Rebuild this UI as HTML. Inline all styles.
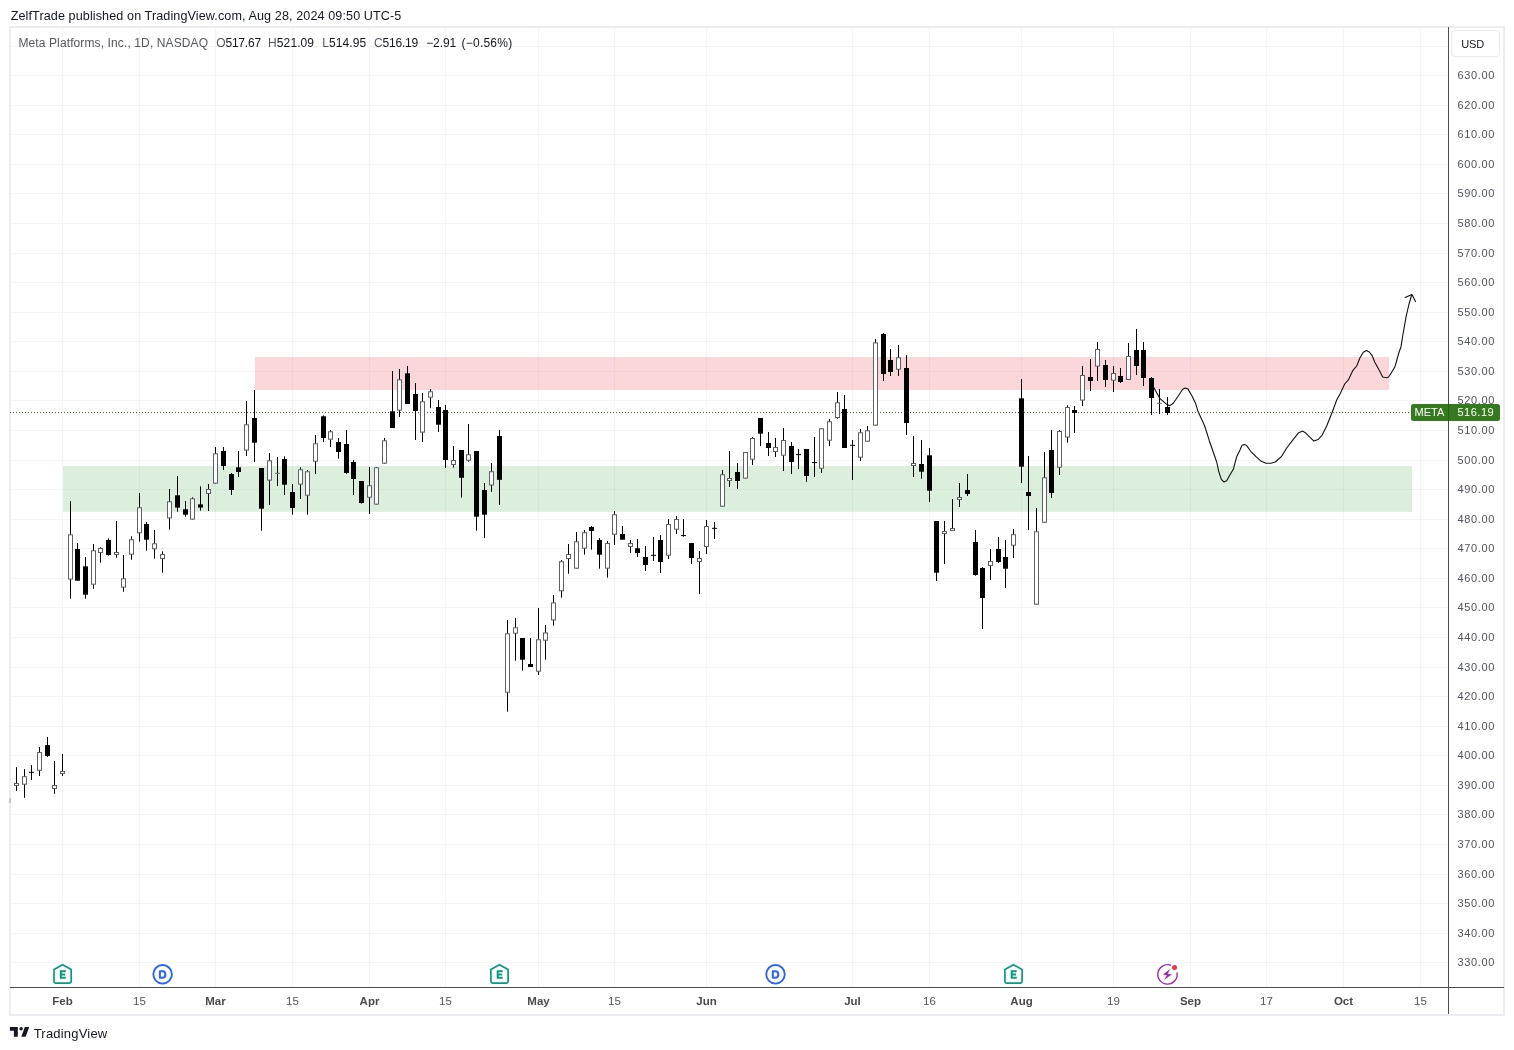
<!DOCTYPE html>
<html><head><meta charset="utf-8"><title>META chart</title>
<style>
html,body{margin:0;padding:0;background:#fff;}
body{width:1514px;height:1050px;position:relative;overflow:hidden;font-family:"Liberation Sans",sans-serif;}
.t{position:absolute;white-space:nowrap;line-height:1;}
#frame{position:absolute;left:9px;top:26px;width:1492px;height:986px;border:2px solid #ebedf3;box-sizing:content-box;}
svg{position:absolute;left:0;top:0;}
#tx{position:absolute;left:0;top:0;width:1514px;height:1050px;will-change:transform;}
.pl{position:absolute;left:1457.4px;font-size:11px;letter-spacing:0.67px;color:#50535e;line-height:12px;height:12px;white-space:nowrap;}
.tl{position:absolute;top:994px;font-size:11.5px;color:#555;line-height:14px;white-space:nowrap;transform:translateX(-50%);}
.tl.b{font-weight:bold;color:#4b4b4b;}
</style></head><body>
<div id="frame"></div>

<svg width="1514" height="1050" viewBox="0 0 1514 1050">
<line x1="62.5" y1="27" x2="62.5" y2="987" stroke="#f4f4f7" stroke-width="1"/>
<line x1="139.5" y1="27" x2="139.5" y2="987" stroke="#f4f4f7" stroke-width="1"/>
<line x1="215.5" y1="27" x2="215.5" y2="987" stroke="#f4f4f7" stroke-width="1"/>
<line x1="292.5" y1="27" x2="292.5" y2="987" stroke="#f4f4f7" stroke-width="1"/>
<line x1="369.5" y1="27" x2="369.5" y2="987" stroke="#f4f4f7" stroke-width="1"/>
<line x1="445.5" y1="27" x2="445.5" y2="987" stroke="#f4f4f7" stroke-width="1"/>
<line x1="538.5" y1="27" x2="538.5" y2="987" stroke="#f4f4f7" stroke-width="1"/>
<line x1="614.5" y1="27" x2="614.5" y2="987" stroke="#f4f4f7" stroke-width="1"/>
<line x1="706.5" y1="27" x2="706.5" y2="987" stroke="#f4f4f7" stroke-width="1"/>
<line x1="852.5" y1="27" x2="852.5" y2="987" stroke="#f4f4f7" stroke-width="1"/>
<line x1="929.5" y1="27" x2="929.5" y2="987" stroke="#f4f4f7" stroke-width="1"/>
<line x1="1021.5" y1="27" x2="1021.5" y2="987" stroke="#f4f4f7" stroke-width="1"/>
<line x1="1113.5" y1="27" x2="1113.5" y2="987" stroke="#f4f4f7" stroke-width="1"/>
<line x1="1190.5" y1="27" x2="1190.5" y2="987" stroke="#f4f4f7" stroke-width="1"/>
<line x1="1266.5" y1="27" x2="1266.5" y2="987" stroke="#f4f4f7" stroke-width="1"/>
<line x1="1343.5" y1="27" x2="1343.5" y2="987" stroke="#f4f4f7" stroke-width="1"/>
<line x1="1420.5" y1="27" x2="1420.5" y2="987" stroke="#f4f4f7" stroke-width="1"/>
<line x1="10" y1="962.5" x2="1448" y2="962.5" stroke="#f4f4f7" stroke-width="1"/>
<line x1="10" y1="933.5" x2="1448" y2="933.5" stroke="#f4f4f7" stroke-width="1"/>
<line x1="10" y1="903.5" x2="1448" y2="903.5" stroke="#f4f4f7" stroke-width="1"/>
<line x1="10" y1="874.5" x2="1448" y2="874.5" stroke="#f4f4f7" stroke-width="1"/>
<line x1="10" y1="844.5" x2="1448" y2="844.5" stroke="#f4f4f7" stroke-width="1"/>
<line x1="10" y1="814.5" x2="1448" y2="814.5" stroke="#f4f4f7" stroke-width="1"/>
<line x1="10" y1="785.5" x2="1448" y2="785.5" stroke="#f4f4f7" stroke-width="1"/>
<line x1="10" y1="755.5" x2="1448" y2="755.5" stroke="#f4f4f7" stroke-width="1"/>
<line x1="10" y1="726.5" x2="1448" y2="726.5" stroke="#f4f4f7" stroke-width="1"/>
<line x1="10" y1="696.5" x2="1448" y2="696.5" stroke="#f4f4f7" stroke-width="1"/>
<line x1="10" y1="667.5" x2="1448" y2="667.5" stroke="#f4f4f7" stroke-width="1"/>
<line x1="10" y1="637.5" x2="1448" y2="637.5" stroke="#f4f4f7" stroke-width="1"/>
<line x1="10" y1="607.5" x2="1448" y2="607.5" stroke="#f4f4f7" stroke-width="1"/>
<line x1="10" y1="578.5" x2="1448" y2="578.5" stroke="#f4f4f7" stroke-width="1"/>
<line x1="10" y1="548.5" x2="1448" y2="548.5" stroke="#f4f4f7" stroke-width="1"/>
<line x1="10" y1="519.5" x2="1448" y2="519.5" stroke="#f4f4f7" stroke-width="1"/>
<line x1="10" y1="489.5" x2="1448" y2="489.5" stroke="#f4f4f7" stroke-width="1"/>
<line x1="10" y1="460.5" x2="1448" y2="460.5" stroke="#f4f4f7" stroke-width="1"/>
<line x1="10" y1="430.5" x2="1448" y2="430.5" stroke="#f4f4f7" stroke-width="1"/>
<line x1="10" y1="400.5" x2="1448" y2="400.5" stroke="#f4f4f7" stroke-width="1"/>
<line x1="10" y1="371.5" x2="1448" y2="371.5" stroke="#f4f4f7" stroke-width="1"/>
<line x1="10" y1="341.5" x2="1448" y2="341.5" stroke="#f4f4f7" stroke-width="1"/>
<line x1="10" y1="312.5" x2="1448" y2="312.5" stroke="#f4f4f7" stroke-width="1"/>
<line x1="10" y1="282.5" x2="1448" y2="282.5" stroke="#f4f4f7" stroke-width="1"/>
<line x1="10" y1="253.5" x2="1448" y2="253.5" stroke="#f4f4f7" stroke-width="1"/>
<line x1="10" y1="223.5" x2="1448" y2="223.5" stroke="#f4f4f7" stroke-width="1"/>
<line x1="10" y1="193.5" x2="1448" y2="193.5" stroke="#f4f4f7" stroke-width="1"/>
<line x1="10" y1="164.5" x2="1448" y2="164.5" stroke="#f4f4f7" stroke-width="1"/>
<line x1="10" y1="134.5" x2="1448" y2="134.5" stroke="#f4f4f7" stroke-width="1"/>
<line x1="10" y1="105.5" x2="1448" y2="105.5" stroke="#f4f4f7" stroke-width="1"/>
<line x1="10" y1="75.5" x2="1448" y2="75.5" stroke="#f4f4f7" stroke-width="1"/>
<line x1="10" y1="46.5" x2="1448" y2="46.5" stroke="#f4f4f7" stroke-width="1"/>
<rect x="255" y="357" width="1134" height="33" fill="#f23645" fill-opacity="0.2"/>
<rect x="63" y="466" width="1349" height="45.8" fill="#4caf50" fill-opacity="0.2"/>
<line x1="10" y1="412.5" x2="1411" y2="412.5" stroke="#2f7d1a" stroke-width="1" stroke-dasharray="1 2"/>
<rect x="9.6" y="798" width="1" height="5" fill="#9a9ca6"/>
<line x1="16.5" y1="767.1" x2="16.5" y2="790.9" stroke="#000" stroke-width="1"/>
<rect x="14.5" y="783.5" width="4" height="2.0" fill="#fff" stroke="#5d606b" stroke-width="1"/>
<line x1="24.5" y1="769.1" x2="24.5" y2="797.8" stroke="#000" stroke-width="1"/>
<rect x="22.5" y="776.7" width="4" height="7.5" fill="#fff" stroke="#5d606b" stroke-width="1"/>
<line x1="31.5" y1="765.1" x2="31.5" y2="780.0" stroke="#000" stroke-width="1"/>
<line x1="29.0" y1="772.3" x2="34.0" y2="772.3" stroke="#000" stroke-width="1"/>
<line x1="39.5" y1="747.0" x2="39.5" y2="776.0" stroke="#000" stroke-width="1"/>
<rect x="37.5" y="752.5" width="4" height="17.8" fill="#fff" stroke="#5d606b" stroke-width="1"/>
<line x1="47.5" y1="737.0" x2="47.5" y2="756.9" stroke="#000" stroke-width="1"/>
<rect x="45.0" y="745.1" width="5" height="10.8" fill="#000"/>
<line x1="54.5" y1="760.9" x2="54.5" y2="793.8" stroke="#000" stroke-width="1"/>
<rect x="52.5" y="785.5" width="4" height="3.0" fill="#fff" stroke="#5d606b" stroke-width="1"/>
<line x1="62.5" y1="754.0" x2="62.5" y2="776.0" stroke="#000" stroke-width="1"/>
<rect x="60.5" y="771.5" width="4" height="2.0" fill="#fff" stroke="#5d606b" stroke-width="1"/>
<line x1="70.5" y1="501.1" x2="70.5" y2="598.7" stroke="#000" stroke-width="1"/>
<rect x="68.5" y="534.8" width="4" height="44.3" fill="#fff" stroke="#5d606b" stroke-width="1"/>
<line x1="77.5" y1="543.0" x2="77.5" y2="580.7" stroke="#000" stroke-width="1"/>
<rect x="75.0" y="549.0" width="5" height="31.7" fill="#000"/>
<line x1="85.5" y1="557.0" x2="85.5" y2="598.7" stroke="#000" stroke-width="1"/>
<rect x="83.0" y="566.3" width="5" height="28.4" fill="#000"/>
<line x1="93.5" y1="544.0" x2="93.5" y2="588.7" stroke="#000" stroke-width="1"/>
<rect x="91.5" y="550.8" width="4" height="33.4" fill="#fff" stroke="#5d606b" stroke-width="1"/>
<line x1="100.5" y1="547.3" x2="100.5" y2="562.7" stroke="#000" stroke-width="1"/>
<rect x="98.5" y="548.5" width="4" height="4.0" fill="#fff" stroke="#5d606b" stroke-width="1"/>
<line x1="108.5" y1="538.3" x2="108.5" y2="555.7" stroke="#000" stroke-width="1"/>
<rect x="106.0" y="540.0" width="5" height="15.0" fill="#000"/>
<line x1="116.5" y1="521.0" x2="116.5" y2="557.7" stroke="#000" stroke-width="1"/>
<rect x="114.5" y="552.5" width="4" height="2.0" fill="#fff" stroke="#5d606b" stroke-width="1"/>
<line x1="123.5" y1="555.0" x2="123.5" y2="591.7" stroke="#000" stroke-width="1"/>
<rect x="121.5" y="578.8" width="4" height="8.3" fill="#fff" stroke="#5d606b" stroke-width="1"/>
<line x1="131.5" y1="536.3" x2="131.5" y2="559.7" stroke="#000" stroke-width="1"/>
<rect x="129.5" y="539.8" width="4" height="14.4" fill="#fff" stroke="#5d606b" stroke-width="1"/>
<line x1="139.5" y1="493.0" x2="139.5" y2="541.7" stroke="#000" stroke-width="1"/>
<rect x="137.5" y="507.8" width="4" height="25.0" fill="#fff" stroke="#5d606b" stroke-width="1"/>
<line x1="146.5" y1="522.0" x2="146.5" y2="550.7" stroke="#000" stroke-width="1"/>
<rect x="144.0" y="524.0" width="5" height="15.7" fill="#000"/>
<line x1="154.5" y1="530.0" x2="154.5" y2="558.7" stroke="#000" stroke-width="1"/>
<rect x="152.5" y="543.8" width="4" height="5.0" fill="#fff" stroke="#5d606b" stroke-width="1"/>
<line x1="162.5" y1="551.3" x2="162.5" y2="572.7" stroke="#000" stroke-width="1"/>
<rect x="160.5" y="554.5" width="4" height="4.0" fill="#fff" stroke="#5d606b" stroke-width="1"/>
<line x1="169.5" y1="489.0" x2="169.5" y2="529.6" stroke="#000" stroke-width="1"/>
<rect x="167.5" y="501.8" width="4" height="16.1" fill="#fff" stroke="#5d606b" stroke-width="1"/>
<line x1="177.5" y1="476.0" x2="177.5" y2="511.7" stroke="#000" stroke-width="1"/>
<rect x="175.0" y="495.3" width="5" height="12.3" fill="#000"/>
<line x1="185.5" y1="501.0" x2="185.5" y2="516.7" stroke="#000" stroke-width="1"/>
<rect x="183.0" y="509.3" width="5" height="5.4" fill="#000"/>
<line x1="192.5" y1="497.3" x2="192.5" y2="519.6" stroke="#000" stroke-width="1"/>
<rect x="190.5" y="498.8" width="4" height="20.3" fill="#fff" stroke="#5d606b" stroke-width="1"/>
<line x1="200.5" y1="486.3" x2="200.5" y2="510.7" stroke="#000" stroke-width="1"/>
<rect x="198.0" y="504.4" width="5" height="3.2" fill="#000"/>
<line x1="208.5" y1="484.0" x2="208.5" y2="511.0" stroke="#000" stroke-width="1"/>
<rect x="206.5" y="489.5" width="4" height="4.0" fill="#fff" stroke="#5d606b" stroke-width="1"/>
<line x1="215.5" y1="447.0" x2="215.5" y2="483.7" stroke="#000" stroke-width="1"/>
<rect x="213.5" y="453.8" width="4" height="29.4" fill="#fff" stroke="#5d606b" stroke-width="1"/>
<line x1="223.5" y1="447.0" x2="223.5" y2="470.0" stroke="#000" stroke-width="1"/>
<rect x="221.0" y="451.0" width="5" height="15.0" fill="#000"/>
<line x1="231.5" y1="473.0" x2="231.5" y2="495.0" stroke="#000" stroke-width="1"/>
<rect x="229.0" y="474.0" width="5" height="16.0" fill="#000"/>
<line x1="238.5" y1="451.0" x2="238.5" y2="477.0" stroke="#000" stroke-width="1"/>
<rect x="236.0" y="467.3" width="5" height="4.7" fill="#000"/>
<line x1="246.5" y1="401.0" x2="246.5" y2="456.0" stroke="#000" stroke-width="1"/>
<rect x="244.5" y="424.8" width="4" height="25.3" fill="#fff" stroke="#5d606b" stroke-width="1"/>
<line x1="254.5" y1="390.0" x2="254.5" y2="462.0" stroke="#000" stroke-width="1"/>
<rect x="252.0" y="418.0" width="5" height="24.7" fill="#000"/>
<line x1="261.5" y1="468.0" x2="261.5" y2="530.8" stroke="#000" stroke-width="1"/>
<rect x="259.0" y="468.0" width="5" height="40.7" fill="#000"/>
<line x1="269.5" y1="453.0" x2="269.5" y2="505.0" stroke="#000" stroke-width="1"/>
<rect x="267.5" y="460.8" width="4" height="19.3" fill="#fff" stroke="#5d606b" stroke-width="1"/>
<line x1="277.5" y1="457.0" x2="277.5" y2="486.0" stroke="#000" stroke-width="1"/>
<line x1="275.0" y1="473.3" x2="280.0" y2="473.3" stroke="#70737e" stroke-width="1"/>
<line x1="284.5" y1="456.3" x2="284.5" y2="495.0" stroke="#000" stroke-width="1"/>
<rect x="282.0" y="459.0" width="5" height="25.7" fill="#000"/>
<line x1="292.5" y1="484.0" x2="292.5" y2="514.7" stroke="#000" stroke-width="1"/>
<rect x="290.0" y="492.0" width="5" height="16.0" fill="#000"/>
<line x1="300.5" y1="467.3" x2="300.5" y2="499.0" stroke="#000" stroke-width="1"/>
<rect x="298.5" y="469.8" width="4" height="14.3" fill="#fff" stroke="#5d606b" stroke-width="1"/>
<line x1="307.5" y1="470.0" x2="307.5" y2="514.7" stroke="#000" stroke-width="1"/>
<rect x="305.5" y="471.8" width="4" height="23.4" fill="#fff" stroke="#5d606b" stroke-width="1"/>
<line x1="315.5" y1="435.0" x2="315.5" y2="474.0" stroke="#000" stroke-width="1"/>
<rect x="313.5" y="443.8" width="4" height="17.4" fill="#fff" stroke="#5d606b" stroke-width="1"/>
<line x1="323.5" y1="415.4" x2="323.5" y2="442.0" stroke="#000" stroke-width="1"/>
<rect x="321.0" y="416.3" width="5" height="21.7" fill="#000"/>
<line x1="330.5" y1="430.0" x2="330.5" y2="447.0" stroke="#000" stroke-width="1"/>
<rect x="328.5" y="431.8" width="4" height="7.4" fill="#fff" stroke="#5d606b" stroke-width="1"/>
<line x1="338.5" y1="438.0" x2="338.5" y2="458.7" stroke="#000" stroke-width="1"/>
<rect x="336.0" y="442.0" width="5" height="10.0" fill="#000"/>
<line x1="346.5" y1="430.0" x2="346.5" y2="473.7" stroke="#000" stroke-width="1"/>
<rect x="344.0" y="444.0" width="5" height="29.0" fill="#000"/>
<line x1="353.5" y1="460.0" x2="353.5" y2="495.0" stroke="#000" stroke-width="1"/>
<rect x="351.0" y="462.0" width="5" height="17.0" fill="#000"/>
<line x1="361.5" y1="481.0" x2="361.5" y2="503.7" stroke="#000" stroke-width="1"/>
<rect x="359.0" y="481.0" width="5" height="22.0" fill="#000"/>
<line x1="369.5" y1="467.0" x2="369.5" y2="514.0" stroke="#000" stroke-width="1"/>
<rect x="367.5" y="485.8" width="4" height="11.4" fill="#fff" stroke="#5d606b" stroke-width="1"/>
<line x1="376.5" y1="467.3" x2="376.5" y2="504.6" stroke="#000" stroke-width="1"/>
<rect x="374.5" y="467.8" width="4" height="36.3" fill="#fff" stroke="#5d606b" stroke-width="1"/>
<line x1="384.5" y1="438.0" x2="384.5" y2="463.7" stroke="#000" stroke-width="1"/>
<rect x="382.5" y="440.8" width="4" height="22.4" fill="#fff" stroke="#5d606b" stroke-width="1"/>
<line x1="392.5" y1="371.0" x2="392.5" y2="428.0" stroke="#000" stroke-width="1"/>
<rect x="390.0" y="411.3" width="5" height="16.7" fill="#000"/>
<line x1="399.5" y1="369.0" x2="399.5" y2="417.0" stroke="#000" stroke-width="1"/>
<rect x="397.5" y="379.8" width="4" height="30.3" fill="#fff" stroke="#5d606b" stroke-width="1"/>
<line x1="407.5" y1="366.0" x2="407.5" y2="404.0" stroke="#000" stroke-width="1"/>
<rect x="405.0" y="373.3" width="5" height="30.7" fill="#000"/>
<line x1="415.5" y1="383.0" x2="415.5" y2="440.0" stroke="#000" stroke-width="1"/>
<rect x="413.0" y="394.0" width="5" height="17.0" fill="#000"/>
<line x1="422.5" y1="393.0" x2="422.5" y2="442.0" stroke="#000" stroke-width="1"/>
<rect x="420.5" y="401.8" width="4" height="30.3" fill="#fff" stroke="#5d606b" stroke-width="1"/>
<line x1="430.5" y1="389.0" x2="430.5" y2="408.0" stroke="#000" stroke-width="1"/>
<rect x="428.5" y="391.8" width="4" height="5.4" fill="#fff" stroke="#5d606b" stroke-width="1"/>
<line x1="438.5" y1="400.0" x2="438.5" y2="432.0" stroke="#000" stroke-width="1"/>
<rect x="436.0" y="407.0" width="5" height="17.7" fill="#000"/>
<line x1="445.5" y1="405.0" x2="445.5" y2="468.0" stroke="#000" stroke-width="1"/>
<rect x="443.0" y="410.0" width="5" height="50.0" fill="#000"/>
<line x1="453.5" y1="446.0" x2="453.5" y2="467.6" stroke="#000" stroke-width="1"/>
<rect x="451.5" y="460.5" width="4" height="4.0" fill="#fff" stroke="#5d606b" stroke-width="1"/>
<line x1="461.5" y1="450.0" x2="461.5" y2="497.7" stroke="#000" stroke-width="1"/>
<rect x="459.0" y="450.0" width="5" height="27.8" fill="#000"/>
<line x1="468.5" y1="424.0" x2="468.5" y2="461.7" stroke="#000" stroke-width="1"/>
<rect x="466.5" y="454.8" width="4" height="5.4" fill="#fff" stroke="#5d606b" stroke-width="1"/>
<line x1="476.5" y1="451.0" x2="476.5" y2="530.7" stroke="#000" stroke-width="1"/>
<rect x="474.0" y="451.0" width="5" height="65.7" fill="#000"/>
<line x1="484.5" y1="483.0" x2="484.5" y2="538.0" stroke="#000" stroke-width="1"/>
<rect x="482.0" y="490.0" width="5" height="24.7" fill="#000"/>
<line x1="491.5" y1="463.0" x2="491.5" y2="491.8" stroke="#000" stroke-width="1"/>
<rect x="489.5" y="471.8" width="4" height="13.2" fill="#fff" stroke="#5d606b" stroke-width="1"/>
<line x1="499.5" y1="430.0" x2="499.5" y2="505.0" stroke="#000" stroke-width="1"/>
<rect x="497.0" y="436.0" width="5" height="43.8" fill="#000"/>
<line x1="507.5" y1="620.0" x2="507.5" y2="711.7" stroke="#000" stroke-width="1"/>
<rect x="505.5" y="633.8" width="4" height="58.4" fill="#fff" stroke="#5d606b" stroke-width="1"/>
<line x1="515.5" y1="618.0" x2="515.5" y2="660.7" stroke="#000" stroke-width="1"/>
<rect x="513.5" y="627.8" width="4" height="5.4" fill="#fff" stroke="#5d606b" stroke-width="1"/>
<line x1="522.5" y1="638.0" x2="522.5" y2="670.7" stroke="#000" stroke-width="1"/>
<rect x="520.0" y="638.0" width="5" height="21.7" fill="#000"/>
<line x1="530.5" y1="638.0" x2="530.5" y2="667.0" stroke="#000" stroke-width="1"/>
<rect x="528.0" y="664.0" width="5" height="3.0" fill="#000"/>
<line x1="538.5" y1="608.0" x2="538.5" y2="675.0" stroke="#000" stroke-width="1"/>
<rect x="536.5" y="639.8" width="4" height="31.4" fill="#fff" stroke="#5d606b" stroke-width="1"/>
<line x1="545.5" y1="625.0" x2="545.5" y2="659.7" stroke="#000" stroke-width="1"/>
<rect x="543.5" y="632.9" width="4" height="7.3" fill="#fff" stroke="#5d606b" stroke-width="1"/>
<line x1="553.5" y1="595.0" x2="553.5" y2="625.7" stroke="#000" stroke-width="1"/>
<rect x="551.5" y="602.9" width="4" height="17.0" fill="#fff" stroke="#5d606b" stroke-width="1"/>
<line x1="561.5" y1="560.0" x2="561.5" y2="597.7" stroke="#000" stroke-width="1"/>
<rect x="559.5" y="561.8" width="4" height="29.0" fill="#fff" stroke="#5d606b" stroke-width="1"/>
<line x1="568.5" y1="544.0" x2="568.5" y2="573.7" stroke="#000" stroke-width="1"/>
<rect x="566.5" y="554.5" width="4" height="4.0" fill="#fff" stroke="#5d606b" stroke-width="1"/>
<line x1="576.5" y1="532.0" x2="576.5" y2="568.7" stroke="#000" stroke-width="1"/>
<rect x="574.5" y="541.8" width="4" height="26.4" fill="#fff" stroke="#5d606b" stroke-width="1"/>
<line x1="584.5" y1="530.0" x2="584.5" y2="554.7" stroke="#000" stroke-width="1"/>
<rect x="582.5" y="532.8" width="4" height="15.4" fill="#fff" stroke="#5d606b" stroke-width="1"/>
<line x1="591.5" y1="526.0" x2="591.5" y2="549.7" stroke="#000" stroke-width="1"/>
<rect x="589.0" y="527.0" width="5" height="4.0" fill="#000"/>
<line x1="599.5" y1="538.0" x2="599.5" y2="568.7" stroke="#000" stroke-width="1"/>
<rect x="597.0" y="540.0" width="5" height="14.7" fill="#000"/>
<line x1="607.5" y1="541.0" x2="607.5" y2="577.7" stroke="#000" stroke-width="1"/>
<rect x="605.5" y="543.5" width="4" height="24.7" fill="#fff" stroke="#5d606b" stroke-width="1"/>
<line x1="614.5" y1="511.0" x2="614.5" y2="545.0" stroke="#000" stroke-width="1"/>
<rect x="612.5" y="514.8" width="4" height="19.4" fill="#fff" stroke="#5d606b" stroke-width="1"/>
<line x1="622.5" y1="526.0" x2="622.5" y2="539.7" stroke="#000" stroke-width="1"/>
<rect x="620.0" y="534.0" width="5" height="5.7" fill="#000"/>
<line x1="630.5" y1="540.0" x2="630.5" y2="552.8" stroke="#000" stroke-width="1"/>
<rect x="628.5" y="543.5" width="4" height="3.0" fill="#fff" stroke="#5d606b" stroke-width="1"/>
<line x1="637.5" y1="539.0" x2="637.5" y2="557.0" stroke="#000" stroke-width="1"/>
<rect x="635.0" y="548.3" width="5" height="4.7" fill="#000"/>
<line x1="645.5" y1="546.0" x2="645.5" y2="571.0" stroke="#000" stroke-width="1"/>
<rect x="643.0" y="557.0" width="5" height="8.0" fill="#000"/>
<line x1="653.5" y1="537.0" x2="653.5" y2="561.0" stroke="#000" stroke-width="1"/>
<line x1="651.0" y1="555.3" x2="656.0" y2="555.3" stroke="#000" stroke-width="1"/>
<line x1="660.5" y1="535.0" x2="660.5" y2="573.0" stroke="#000" stroke-width="1"/>
<rect x="658.0" y="540.0" width="5" height="22.0" fill="#000"/>
<line x1="668.5" y1="519.0" x2="668.5" y2="559.0" stroke="#000" stroke-width="1"/>
<rect x="666.5" y="524.5" width="4" height="30.7" fill="#fff" stroke="#5d606b" stroke-width="1"/>
<line x1="676.5" y1="516.0" x2="676.5" y2="534.0" stroke="#000" stroke-width="1"/>
<rect x="674.5" y="519.5" width="4" height="9.7" fill="#fff" stroke="#5d606b" stroke-width="1"/>
<line x1="683.5" y1="519.0" x2="683.5" y2="536.7" stroke="#000" stroke-width="1"/>
<line x1="681.0" y1="535.6" x2="686.0" y2="535.6" stroke="#000" stroke-width="1"/>
<line x1="691.5" y1="543.0" x2="691.5" y2="564.0" stroke="#000" stroke-width="1"/>
<rect x="689.0" y="543.0" width="5" height="15.0" fill="#000"/>
<line x1="699.5" y1="551.0" x2="699.5" y2="594.0" stroke="#000" stroke-width="1"/>
<rect x="697.5" y="558.5" width="4" height="3.0" fill="#fff" stroke="#5d606b" stroke-width="1"/>
<line x1="706.5" y1="520.0" x2="706.5" y2="554.0" stroke="#000" stroke-width="1"/>
<rect x="704.5" y="526.5" width="4" height="20.0" fill="#fff" stroke="#5d606b" stroke-width="1"/>
<line x1="714.5" y1="522.0" x2="714.5" y2="539.0" stroke="#000" stroke-width="1"/>
<line x1="712.0" y1="528.3" x2="717.0" y2="528.3" stroke="#000" stroke-width="1"/>
<line x1="722.5" y1="470.0" x2="722.5" y2="506.7" stroke="#000" stroke-width="1"/>
<rect x="720.5" y="474.8" width="4" height="31.4" fill="#fff" stroke="#5d606b" stroke-width="1"/>
<line x1="729.5" y1="451.0" x2="729.5" y2="487.0" stroke="#000" stroke-width="1"/>
<rect x="727.5" y="478.5" width="4" height="2.0" fill="#fff" stroke="#5d606b" stroke-width="1"/>
<line x1="737.5" y1="463.0" x2="737.5" y2="489.0" stroke="#000" stroke-width="1"/>
<rect x="735.0" y="472.0" width="5" height="9.0" fill="#000"/>
<line x1="745.5" y1="452.0" x2="745.5" y2="478.6" stroke="#000" stroke-width="1"/>
<rect x="743.5" y="452.5" width="4" height="25.6" fill="#fff" stroke="#5d606b" stroke-width="1"/>
<line x1="752.5" y1="437.0" x2="752.5" y2="465.0" stroke="#000" stroke-width="1"/>
<rect x="750.5" y="438.5" width="4" height="20.7" fill="#fff" stroke="#5d606b" stroke-width="1"/>
<line x1="760.5" y1="418.0" x2="760.5" y2="446.0" stroke="#000" stroke-width="1"/>
<rect x="758.0" y="418.0" width="5" height="15.7" fill="#000"/>
<line x1="768.5" y1="432.0" x2="768.5" y2="456.0" stroke="#000" stroke-width="1"/>
<rect x="766.0" y="443.0" width="5" height="5.0" fill="#000"/>
<line x1="775.5" y1="438.0" x2="775.5" y2="457.0" stroke="#000" stroke-width="1"/>
<rect x="773.5" y="447.5" width="4" height="4.0" fill="#fff" stroke="#5d606b" stroke-width="1"/>
<line x1="783.5" y1="428.0" x2="783.5" y2="471.0" stroke="#000" stroke-width="1"/>
<rect x="781.5" y="440.5" width="4" height="14.7" fill="#fff" stroke="#5d606b" stroke-width="1"/>
<line x1="791.5" y1="442.0" x2="791.5" y2="474.0" stroke="#000" stroke-width="1"/>
<rect x="789.0" y="446.0" width="5" height="16.0" fill="#000"/>
<line x1="798.5" y1="449.0" x2="798.5" y2="469.0" stroke="#000" stroke-width="1"/>
<line x1="796.0" y1="454.6" x2="801.0" y2="454.6" stroke="#000" stroke-width="1"/>
<line x1="806.5" y1="449.0" x2="806.5" y2="482.0" stroke="#000" stroke-width="1"/>
<rect x="804.0" y="449.0" width="5" height="27.0" fill="#000"/>
<line x1="814.5" y1="437.0" x2="814.5" y2="477.0" stroke="#000" stroke-width="1"/>
<line x1="812.0" y1="462.6" x2="817.0" y2="462.6" stroke="#000" stroke-width="1"/>
<line x1="821.5" y1="428.3" x2="821.5" y2="473.0" stroke="#000" stroke-width="1"/>
<rect x="819.5" y="428.8" width="4" height="39.4" fill="#fff" stroke="#5d606b" stroke-width="1"/>
<line x1="829.5" y1="419.0" x2="829.5" y2="446.0" stroke="#000" stroke-width="1"/>
<rect x="827.5" y="421.8" width="4" height="18.4" fill="#fff" stroke="#5d606b" stroke-width="1"/>
<line x1="837.5" y1="392.0" x2="837.5" y2="418.7" stroke="#000" stroke-width="1"/>
<rect x="835.5" y="402.8" width="4" height="14.7" fill="#fff" stroke="#5d606b" stroke-width="1"/>
<line x1="844.5" y1="395.0" x2="844.5" y2="448.0" stroke="#000" stroke-width="1"/>
<rect x="842.0" y="409.0" width="5" height="39.0" fill="#000"/>
<line x1="852.5" y1="440.0" x2="852.5" y2="480.0" stroke="#000" stroke-width="1"/>
<line x1="850.0" y1="445.4" x2="855.0" y2="445.4" stroke="#000" stroke-width="1"/>
<line x1="860.5" y1="429.0" x2="860.5" y2="461.0" stroke="#000" stroke-width="1"/>
<rect x="858.5" y="432.8" width="4" height="24.4" fill="#fff" stroke="#5d606b" stroke-width="1"/>
<line x1="867.5" y1="426.0" x2="867.5" y2="441.7" stroke="#000" stroke-width="1"/>
<rect x="865.5" y="430.8" width="4" height="10.4" fill="#fff" stroke="#5d606b" stroke-width="1"/>
<line x1="875.5" y1="339.0" x2="875.5" y2="425.6" stroke="#000" stroke-width="1"/>
<rect x="873.5" y="342.9" width="4" height="82.2" fill="#fff" stroke="#5d606b" stroke-width="1"/>
<line x1="883.5" y1="333.0" x2="883.5" y2="381.0" stroke="#000" stroke-width="1"/>
<rect x="881.0" y="334.0" width="5" height="40.0" fill="#000"/>
<line x1="890.5" y1="349.0" x2="890.5" y2="376.0" stroke="#000" stroke-width="1"/>
<rect x="888.0" y="360.0" width="5" height="12.0" fill="#000"/>
<line x1="898.5" y1="345.0" x2="898.5" y2="376.0" stroke="#000" stroke-width="1"/>
<rect x="896.5" y="357.8" width="4" height="11.4" fill="#fff" stroke="#5d606b" stroke-width="1"/>
<line x1="906.5" y1="355.0" x2="906.5" y2="435.0" stroke="#000" stroke-width="1"/>
<rect x="904.0" y="368.0" width="5" height="55.0" fill="#000"/>
<line x1="913.5" y1="436.0" x2="913.5" y2="477.0" stroke="#000" stroke-width="1"/>
<rect x="911.5" y="463.5" width="4" height="2.0" fill="#fff" stroke="#5d606b" stroke-width="1"/>
<line x1="921.5" y1="440.0" x2="921.5" y2="478.7" stroke="#000" stroke-width="1"/>
<rect x="919.0" y="464.0" width="5" height="7.7" fill="#000"/>
<line x1="929.5" y1="448.0" x2="929.5" y2="502.0" stroke="#000" stroke-width="1"/>
<rect x="927.0" y="455.3" width="5" height="35.4" fill="#000"/>
<line x1="936.5" y1="521.0" x2="936.5" y2="581.0" stroke="#000" stroke-width="1"/>
<rect x="934.0" y="521.0" width="5" height="51.7" fill="#000"/>
<line x1="944.5" y1="521.0" x2="944.5" y2="564.0" stroke="#000" stroke-width="1"/>
<rect x="942.5" y="531.5" width="4" height="2.0" fill="#fff" stroke="#5d606b" stroke-width="1"/>
<line x1="952.5" y1="499.0" x2="952.5" y2="530.7" stroke="#000" stroke-width="1"/>
<rect x="950.5" y="528.5" width="4" height="2.0" fill="#fff" stroke="#5d606b" stroke-width="1"/>
<line x1="959.5" y1="483.0" x2="959.5" y2="507.0" stroke="#000" stroke-width="1"/>
<rect x="957.5" y="497.5" width="4" height="2.0" fill="#fff" stroke="#5d606b" stroke-width="1"/>
<line x1="967.5" y1="474.0" x2="967.5" y2="496.0" stroke="#000" stroke-width="1"/>
<rect x="965.0" y="490.0" width="5" height="4.0" fill="#000"/>
<line x1="975.5" y1="530.0" x2="975.5" y2="575.7" stroke="#000" stroke-width="1"/>
<rect x="973.0" y="542.0" width="5" height="33.0" fill="#000"/>
<line x1="982.5" y1="567.0" x2="982.5" y2="629.0" stroke="#000" stroke-width="1"/>
<rect x="980.0" y="568.0" width="5" height="30.0" fill="#000"/>
<line x1="990.5" y1="549.0" x2="990.5" y2="580.0" stroke="#000" stroke-width="1"/>
<rect x="988.5" y="561.5" width="4" height="4.0" fill="#fff" stroke="#5d606b" stroke-width="1"/>
<line x1="998.5" y1="537.0" x2="998.5" y2="563.0" stroke="#000" stroke-width="1"/>
<rect x="996.0" y="549.0" width="5" height="13.0" fill="#000"/>
<line x1="1005.5" y1="540.0" x2="1005.5" y2="588.0" stroke="#000" stroke-width="1"/>
<rect x="1003.0" y="557.0" width="5" height="11.7" fill="#000"/>
<line x1="1013.5" y1="529.0" x2="1013.5" y2="558.0" stroke="#000" stroke-width="1"/>
<rect x="1011.5" y="534.7" width="4" height="10.5" fill="#fff" stroke="#5d606b" stroke-width="1"/>
<line x1="1021.5" y1="379.0" x2="1021.5" y2="483.0" stroke="#000" stroke-width="1"/>
<rect x="1019.0" y="398.3" width="5" height="68.4" fill="#000"/>
<line x1="1028.5" y1="456.0" x2="1028.5" y2="530.0" stroke="#000" stroke-width="1"/>
<rect x="1026.0" y="492.0" width="5" height="4.0" fill="#000"/>
<line x1="1036.5" y1="508.0" x2="1036.5" y2="604.7" stroke="#000" stroke-width="1"/>
<rect x="1034.5" y="531.8" width="4" height="72.4" fill="#fff" stroke="#5d606b" stroke-width="1"/>
<line x1="1044.5" y1="452.0" x2="1044.5" y2="522.7" stroke="#000" stroke-width="1"/>
<rect x="1042.5" y="477.8" width="4" height="44.4" fill="#fff" stroke="#5d606b" stroke-width="1"/>
<line x1="1051.5" y1="430.0" x2="1051.5" y2="498.0" stroke="#000" stroke-width="1"/>
<rect x="1049.0" y="450.0" width="5" height="43.0" fill="#000"/>
<line x1="1059.5" y1="430.0" x2="1059.5" y2="475.0" stroke="#000" stroke-width="1"/>
<rect x="1057.5" y="431.5" width="4" height="35.7" fill="#fff" stroke="#5d606b" stroke-width="1"/>
<line x1="1067.5" y1="405.3" x2="1067.5" y2="442.7" stroke="#000" stroke-width="1"/>
<rect x="1065.5" y="407.5" width="4" height="29.5" fill="#fff" stroke="#5d606b" stroke-width="1"/>
<line x1="1074.5" y1="406.0" x2="1074.5" y2="433.0" stroke="#000" stroke-width="1"/>
<rect x="1072.0" y="410.0" width="5" height="3.0" fill="#000"/>
<line x1="1082.5" y1="366.0" x2="1082.5" y2="406.0" stroke="#000" stroke-width="1"/>
<rect x="1080.5" y="375.5" width="4" height="24.6" fill="#fff" stroke="#5d606b" stroke-width="1"/>
<line x1="1090.5" y1="359.0" x2="1090.5" y2="391.0" stroke="#000" stroke-width="1"/>
<rect x="1088.0" y="377.0" width="5" height="4.0" fill="#000"/>
<line x1="1097.5" y1="342.0" x2="1097.5" y2="381.0" stroke="#000" stroke-width="1"/>
<rect x="1095.5" y="349.5" width="4" height="16.6" fill="#fff" stroke="#5d606b" stroke-width="1"/>
<line x1="1105.5" y1="360.0" x2="1105.5" y2="387.0" stroke="#000" stroke-width="1"/>
<rect x="1103.0" y="365.0" width="5" height="15.0" fill="#000"/>
<line x1="1113.5" y1="366.0" x2="1113.5" y2="392.0" stroke="#000" stroke-width="1"/>
<rect x="1111.5" y="373.5" width="4" height="6.7" fill="#fff" stroke="#5d606b" stroke-width="1"/>
<line x1="1120.5" y1="368.0" x2="1120.5" y2="383.0" stroke="#000" stroke-width="1"/>
<rect x="1118.0" y="376.0" width="5" height="6.0" fill="#000"/>
<line x1="1128.5" y1="343.0" x2="1128.5" y2="380.0" stroke="#000" stroke-width="1"/>
<rect x="1126.5" y="356.5" width="4" height="23.0" fill="#fff" stroke="#5d606b" stroke-width="1"/>
<line x1="1136.5" y1="329.0" x2="1136.5" y2="375.0" stroke="#000" stroke-width="1"/>
<rect x="1134.0" y="350.0" width="5" height="16.0" fill="#000"/>
<line x1="1143.5" y1="342.0" x2="1143.5" y2="386.0" stroke="#000" stroke-width="1"/>
<rect x="1141.0" y="350.0" width="5" height="28.0" fill="#000"/>
<line x1="1151.5" y1="377.0" x2="1151.5" y2="415.0" stroke="#000" stroke-width="1"/>
<rect x="1149.0" y="378.0" width="5" height="20.0" fill="#000"/>
<line x1="1159.5" y1="389.0" x2="1159.5" y2="414.0" stroke="#000" stroke-width="1"/>
<line x1="1157.0" y1="403.3" x2="1162.0" y2="403.3" stroke="#70737e" stroke-width="1"/>
<line x1="1167.5" y1="397.0" x2="1167.5" y2="415.0" stroke="#000" stroke-width="1"/>
<rect x="1165.0" y="407.0" width="5" height="6.0" fill="#000"/>
<path d="M1153.7,387.3 L1160.0,398.7 L1167.3,404.9 L1170.0,405.6 L1173.3,403.3 L1178.7,395.3 L1182.7,389.3 L1185.3,388.0 L1188.0,389.1 L1192.0,396.0 L1195.3,402.7 L1198.0,411.3 L1204.7,426.0 L1209.3,440.7 L1216.7,462.0 L1218.7,471.3 L1221.3,479.3 L1224.0,482.0 L1226.7,480.7 L1229.3,476.0 L1233.3,469.3 L1236.7,456.7 L1240.0,450.0 L1242.0,445.3 L1244.7,444.4 L1246.7,445.6 L1250.7,451.3 L1256.0,456.7 L1261.3,461.3 L1266.0,463.3 L1270.7,463.3 L1275.3,462.0 L1281.3,456.7 L1286.7,448.0 L1293.3,439.3 L1298.7,432.7 L1302.7,431.1 L1305.3,432.7 L1310.0,437.3 L1314.0,441.1 L1318.0,439.6 L1322.0,435.3 L1326.7,426.0 L1332.0,412.7 L1336.7,400.0 L1340.0,394.0 L1344.7,384.0 L1348.7,379.3 L1352.7,370.7 L1356.7,366.0 L1360.0,357.7 L1363.3,352.3 L1366.3,350.5 L1369.3,352.0 L1372.0,355.3 L1374.7,362.0 L1378.7,369.3 L1382.7,377.0 L1386.7,377.7 L1388.7,377.0 L1391.3,372.7 L1394.7,367.3 L1396.3,362.0 L1398.7,353.3 L1401.0,346.7 L1402.7,336.0 L1406.1,316.7 L1408.9,304.5 L1411.7,294.7" fill="none" stroke="#111" stroke-width="1.1" stroke-linejoin="round" stroke-linecap="round"/>
<path d="M1405.2,297.5 L1411.9,294.5 L1415.5,301.5" fill="none" stroke="#111" stroke-width="1.1" stroke-linejoin="round" stroke-linecap="round"/>
<line x1="1448.5" y1="27" x2="1448.5" y2="1014" stroke="#4f4f4f" stroke-width="1"/>
<line x1="10" y1="987.5" x2="1504" y2="987.5" stroke="#4f4f4f" stroke-width="1"/>
<rect x="1411" y="404" width="89" height="17" rx="2.5" fill="#367a20"/>
<line x1="1448.5" y1="404" x2="1448.5" y2="421" stroke="#2b5c1c" stroke-width="1"/>
<g transform="translate(62.6,974)"><path d="M-8.6,-4.4 L0,-9.3 L8.6,-4.4 L8.6,7.6 Q8.6,9.2 7,9.2 L-7,9.2 Q-8.6,9.2 -8.6,7.6 Z" fill="#fff" stroke="#089981" stroke-width="1.7" stroke-linejoin="round"/><path d="M3.2,-2.8 H-1.8 V3.8 H3.2 M-1.8,0.5 H2.6" fill="none" stroke="#089981" stroke-width="2"/></g>
<g transform="translate(499.5,974)"><path d="M-8.6,-4.4 L0,-9.3 L8.6,-4.4 L8.6,7.6 Q8.6,9.2 7,9.2 L-7,9.2 Q-8.6,9.2 -8.6,7.6 Z" fill="#fff" stroke="#089981" stroke-width="1.7" stroke-linejoin="round"/><path d="M3.2,-2.8 H-1.8 V3.8 H3.2 M-1.8,0.5 H2.6" fill="none" stroke="#089981" stroke-width="2"/></g>
<g transform="translate(1013.5,974)"><path d="M-8.6,-4.4 L0,-9.3 L8.6,-4.4 L8.6,7.6 Q8.6,9.2 7,9.2 L-7,9.2 Q-8.6,9.2 -8.6,7.6 Z" fill="#fff" stroke="#089981" stroke-width="1.7" stroke-linejoin="round"/><path d="M3.2,-2.8 H-1.8 V3.8 H3.2 M-1.8,0.5 H2.6" fill="none" stroke="#089981" stroke-width="2"/></g>
<g transform="translate(162.6,974.3)"><circle r="9.3" fill="#fff" stroke="#2962ff" stroke-width="1.85"/><path d="M-2.7,-3.1 H-0.2 Q2.8,-3.1 2.8,0.2 Q2.8,3.5 -0.2,3.5 H-2.7 Z" fill="none" stroke="#2962ff" stroke-width="2" stroke-linejoin="round"/></g>
<g transform="translate(775.5,974.3)"><circle r="9.3" fill="#fff" stroke="#2962ff" stroke-width="1.85"/><path d="M-2.7,-3.1 H-0.2 Q2.8,-3.1 2.8,0.2 Q2.8,3.5 -0.2,3.5 H-2.7 Z" fill="none" stroke="#2962ff" stroke-width="2" stroke-linejoin="round"/></g>
<path d="M1177.11,973.05 A9.7,9.7 0 1 1 1170.50,965.17" fill="none" stroke="#9c27b0" stroke-width="1.4" stroke-linecap="round"/>
<circle cx="1174.5" cy="967.4" r="2.5" fill="#f23645"/>
<path d="M1169.9,969.3 L1163.1,974.6 L1167.0,974.9 L1164.3,979.8 L1171.8,974.2 L1167.7,973.9 Z" fill="#9c27b0" stroke="#9c27b0" stroke-width="0.15" stroke-linejoin="round"/>
<path d="M9.9,1027.1 H17.8 V1036.8 H13.9 V1030.8 H9.9 Z" fill="#131722"/>
<circle cx="21.1" cy="1028.8" r="1.75" fill="#131722"/>
<path d="M24.8,1027.1 H29.2 L25.6,1036.8 H21.3 Z" fill="#131722"/>
</svg>
<div id="tx">
<div class="t" style="left:10.7px;top:9.6px;font-size:12.6px;letter-spacing:0.1px;color:#131722;">ZelfTrade published on TradingView.com, Aug 28, 2024 09:50 UTC-5</div>
<div class="t" style="left:18.4px;top:36.7px;font-size:12px;letter-spacing:0.117px;color:#55575f;">Meta Platforms, Inc., 1D, NASDAQ</div>
<div class="t" style="left:216.3px;top:36.7px;font-size:12px;letter-spacing:-0.207px;color:#131722;"><span style="color:#55575f">O</span>517.67</div>
<div class="t" style="left:268.1px;top:36.7px;font-size:12px;letter-spacing:0.089px;color:#131722;"><span style="color:#55575f">H</span>521.09</div>
<div class="t" style="left:322.2px;top:36.7px;font-size:12px;letter-spacing:0.101px;color:#131722;"><span style="color:#55575f">L</span>514.95</div>
<div class="t" style="left:374px;top:36.7px;font-size:12px;letter-spacing:-0.183px;color:#131722;"><span style="color:#55575f">C</span>516.19</div>
<div class="t" style="left:426.2px;top:36.7px;font-size:12px;letter-spacing:-0.076px;color:#131722;"><span style="color:#55575f"></span>−2.91</div>
<div class="t" style="left:461.5px;top:36.7px;font-size:12px;letter-spacing:0.234px;color:#131722;"><span style="color:#55575f"></span>(−0.56%)</div>
<div style="position:absolute;left:1451px;top:30px;width:47px;height:25px;border:1px solid #e8eaf2;border-radius:4px;background:#fff;"></div>
<div class="t" style="left:1461.3px;top:39px;font-size:11px;letter-spacing:-0.2px;color:#131722;">USD</div>
<div class="pl" style="top:69px;">630.00</div>
<div class="pl" style="top:99px;">620.00</div>
<div class="pl" style="top:128px;">610.00</div>
<div class="pl" style="top:158px;">600.00</div>
<div class="pl" style="top:187px;">590.00</div>
<div class="pl" style="top:217px;">580.00</div>
<div class="pl" style="top:247px;">570.00</div>
<div class="pl" style="top:276px;">560.00</div>
<div class="pl" style="top:306px;">550.00</div>
<div class="pl" style="top:335px;">540.00</div>
<div class="pl" style="top:365px;">530.00</div>
<div class="pl" style="top:394px;">520.00</div>
<div class="pl" style="top:424px;">510.00</div>
<div class="pl" style="top:454px;">500.00</div>
<div class="pl" style="top:483px;">490.00</div>
<div class="pl" style="top:513px;">480.00</div>
<div class="pl" style="top:542px;">470.00</div>
<div class="pl" style="top:572px;">460.00</div>
<div class="pl" style="top:601px;">450.00</div>
<div class="pl" style="top:631px;">440.00</div>
<div class="pl" style="top:661px;">430.00</div>
<div class="pl" style="top:690px;">420.00</div>
<div class="pl" style="top:720px;">410.00</div>
<div class="pl" style="top:749px;">400.00</div>
<div class="pl" style="top:779px;">390.00</div>
<div class="pl" style="top:808px;">380.00</div>
<div class="pl" style="top:838px;">370.00</div>
<div class="pl" style="top:868px;">360.00</div>
<div class="pl" style="top:897px;">350.00</div>
<div class="pl" style="top:927px;">340.00</div>
<div class="pl" style="top:956px;">330.00</div>
<div class="t" style="left:1414.5px;top:407px;font-size:11px;color:#fff;">META</div>
<div class="t" style="left:1457.5px;top:407px;font-size:11px;letter-spacing:0.5px;color:#fff;">516.19</div>
<div class="tl b" style="left:62.5px;">Feb</div>
<div class="tl" style="left:139.5px;">15</div>
<div class="tl b" style="left:215.5px;">Mar</div>
<div class="tl" style="left:292.5px;">15</div>
<div class="tl b" style="left:369.5px;">Apr</div>
<div class="tl" style="left:445.5px;">15</div>
<div class="tl b" style="left:538.5px;">May</div>
<div class="tl" style="left:614.5px;">15</div>
<div class="tl b" style="left:706.5px;">Jun</div>
<div class="tl b" style="left:852.5px;">Jul</div>
<div class="tl" style="left:929.5px;">16</div>
<div class="tl b" style="left:1021.5px;">Aug</div>
<div class="tl" style="left:1113.5px;">19</div>
<div class="tl b" style="left:1190.5px;">Sep</div>
<div class="tl" style="left:1266.5px;">17</div>
<div class="tl b" style="left:1343.5px;">Oct</div>
<div class="tl" style="left:1420.5px;">15</div>
<div class="t" style="left:33.7px;top:1026.5px;font-size:13px;letter-spacing:0.2px;color:#131722;">TradingView</div>
</div>
</body></html>
